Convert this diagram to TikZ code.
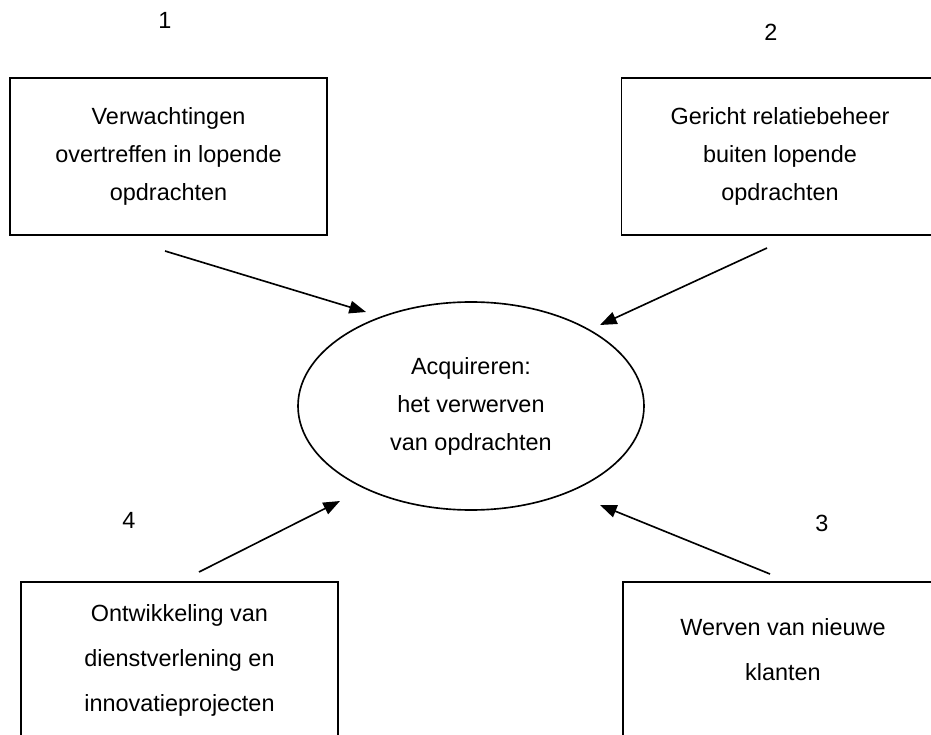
\documentclass[tikz,border=0pt]{standalone}
\usepackage{fontspec}
\setmainfont{Liberation Sans}
\usetikzlibrary{positioning}
\usetikzlibrary{arrows.meta}
\usetikzlibrary{shapes.geometric}

\begin{document}
\begin{tikzpicture}[x=0.3mm,y=-0.3mm,
    blok/.style={rectangle,draw,line width=1.4pt,minimum width={95.1mm},minimum height={47.1mm},inner sep=0pt,align=center,font=\fontsize{20pt}{32.4pt}\selectfont},
    kern/.style={ellipse,draw,line width=1.4pt,minimum width={103.8mm},minimum height={62.4mm},inner sep=0pt,align=center,font=\fontsize{20pt}{32.4pt}\selectfont},
    nummer/.style={font=\fontsize{20pt}{24pt}\selectfont},
    pijl/.style={-{Triangle[length=5mm,width=3.8mm]},line width=1.4pt}]
    \clip (0,0) rectangle (931,735);
    \node (b1) at (168.5,156.5) [blok] {Verwachtingen\\overtreffen in lopende\\opdrachten};
    \node (b2) at (780,156.5) [blok] {Gericht relatiebeheer\\buiten lopende\\opdrachten};
    \node (b4) at (179.5,660.5) [blok,font=\fontsize{20pt}{38.4pt}\selectfont] {Ontwikkeling van\\dienstverlening en\\innovatieprojecten};
    \node (b3) at (781.5,660.5) [blok] {};
    \node (t3) at (783,650) [align=center,font=\fontsize{20pt}{38.4pt}\selectfont] {Werven van nieuwe\\klanten};
    \node (acq) at (471,406) [kern] {Acquireren:\\het verwerven\\van opdrachten};
    \node (n1) at (165,20) [nummer] {1};
    \node (n2) at (771,32) [nummer] {2};
    \node (n3) at (822,523) [nummer] {3};
    \node (n4) at (129,520) [nummer] {4};
    \coordinate (s1) at (165,251);
    \coordinate (e1) at (366,312);
    \coordinate (s2) at (767,248);
    \coordinate (e2) at (600,325);
    \coordinate (s3) at (770,574);
    \coordinate (e3) at (600,505);
    \coordinate (s4) at (199,572);
    \coordinate (e4) at (340,501);
    \draw [pijl] (s1) -- (e1);
    \draw [pijl] (s2) -- (e2);
    \draw [pijl] (s3) -- (e3);
    \draw [pijl] (s4) -- (e4);
\end{tikzpicture}
\end{document}
